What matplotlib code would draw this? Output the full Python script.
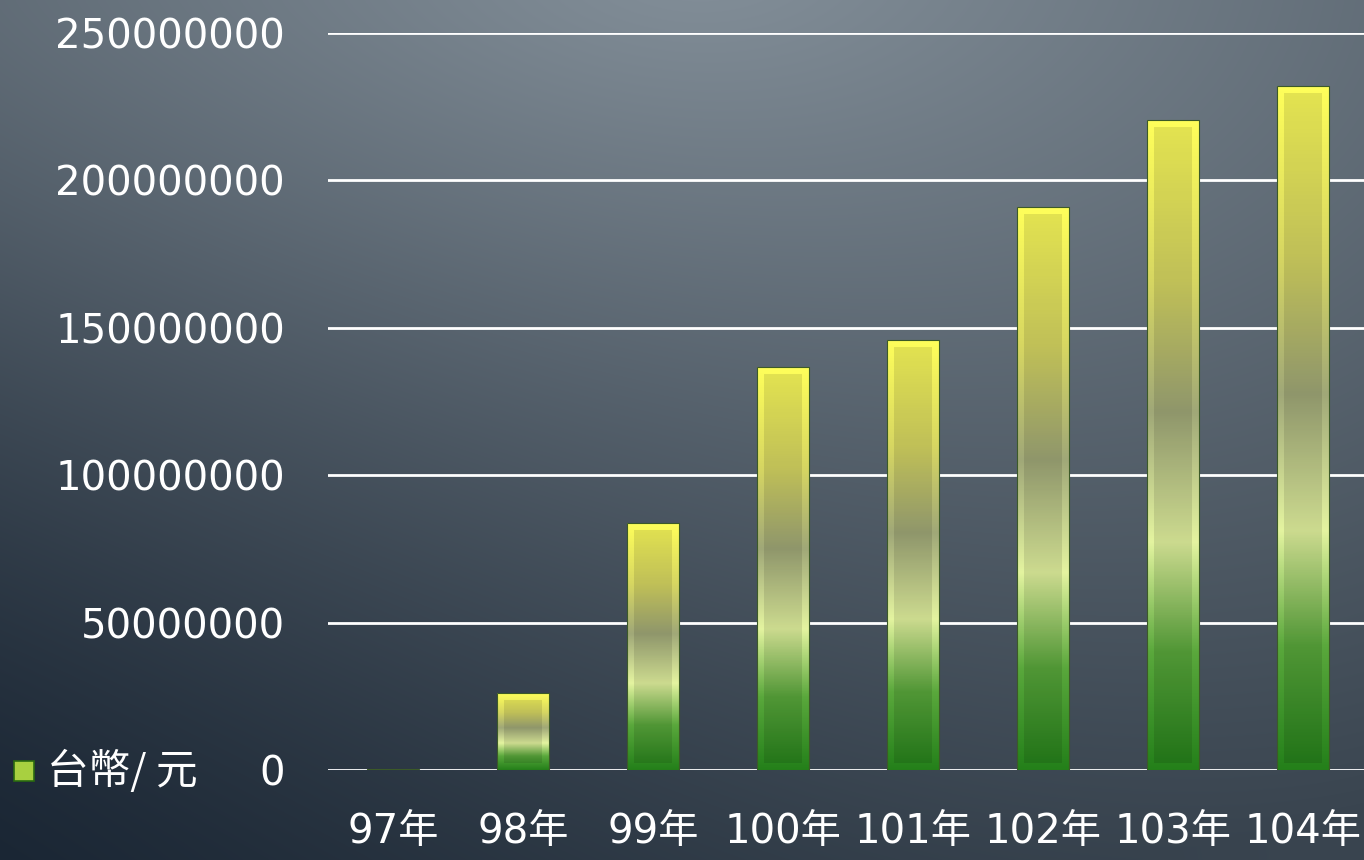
import numpy as np
import matplotlib
matplotlib.use("Agg")
import matplotlib.pyplot as plt
from matplotlib.colors import LinearSegmentedColormap
from matplotlib.patches import Rectangle

years = ["97年", "98年", "99年", "100年", "101年", "102年", "103年", "104年"]
amounts = [400000, 26000000, 83800000, 136700000, 145900000, 191000000, 220500000, 232000000]
yticks = [0, 50000000, 100000000, 150000000, 200000000, 250000000]
legend_label = "台幣/ 元"

plt.rcParams['font.family'] = ['DejaVu Sans', 'Noto Sans CJK TC']

W, H = 1364, 860
fig = plt.figure(figsize=(W / 100, H / 100), dpi=100)

# background: slate gradient, light at top centre, darkest bottom-left
bg = fig.add_axes([0, 0, 1, 1])
yy, xx = np.mgrid[0:H, 0:W]
d = np.sqrt(((xx - 700) / 1500.0) ** 2 + ((yy + 50) / 950.0) ** 2)
d = np.clip(d, 0, 1)[..., None]
c0 = np.array([0x84, 0x90, 0x9a]) / 255
c1 = np.array([0x3a, 0x45, 0x50]) / 255
c2 = np.array([0x1a, 0x26, 0x34]) / 255
img = c0 * (1 - d) + c1 * d
e = np.clip((yy / H) * (1 - xx / W), 0, 1)[..., None] ** 1.3
img = img * (1 - e) + c2 * e
bg.imshow(img, aspect='auto', extent=[0, 1, 0, 1], origin='upper')
bg.axis('off')

ax = fig.add_axes([328 / W, 1 - 770 / H, 1040 / W, 737 / H])
ax.patch.set_alpha(0)
x = np.arange(len(years))

for t in yticks:
    ax.axhline(t, color='white', lw=2, zorder=1)

bar_cmap = LinearSegmentedColormap.from_list("bar", [
    (0.0, "#24801a"), (0.18, "#5aa83c"), (0.35, "#e4f4a0"),
    (0.55, "#a0a878"), (0.75, "#d6d662"), (1.0, "#ffff5a")])
grad = np.linspace(0, 1, 256).reshape(-1, 1)

bw = 0.4
bars = ax.bar(x, amounts, width=bw, color='none', edgecolor='#3c5a28', lw=0.8, zorder=3)
for b, v in zip(bars, amounts):
    x0 = b.get_x()
    im = ax.imshow(grad, cmap=bar_cmap, aspect='auto', origin='lower',
                   extent=[x0, x0 + bw, 0, v], zorder=2)
    im.set_clip_path(b)
    ix = 0.055
    iy = 2400000
    if v > 4 * iy:
        ax.add_patch(Rectangle((x0 + ix, iy), bw - 2 * ix, v - 2 * iy,
                               facecolor='black', alpha=0.1, lw=0, zorder=2.5))

ax.set_xlim(-0.5, len(years) - 0.5)
ax.set_ylim(0, 250000000)
ax.set_yticks(yticks)
ax.set_yticklabels([str(t) for t in yticks])
ax.set_xticks(x)
ax.set_xticklabels(years)
ax.tick_params(axis='y', length=0, pad=31, labelsize=29, labelcolor='white')
ax.tick_params(axis='x', length=0, pad=30, labelsize=29, labelcolor='white')
for s in ax.spines.values():
    s.set_visible(False)

# legend
fig.patches.append(Rectangle((14 / W, 1 - 781 / H), 20 / W, 20 / H,
                             transform=fig.transFigure, facecolor='#a8d040',
                             edgecolor='#2a6a10', lw=1.2))
fig.text(47 / W, 1 - 771 / H, legend_label, color='white', fontsize=30,
         va='center', ha='left', family=['Noto Sans CJK TC', 'DejaVu Sans'])

fig.savefig("out.png", dpi=100)
